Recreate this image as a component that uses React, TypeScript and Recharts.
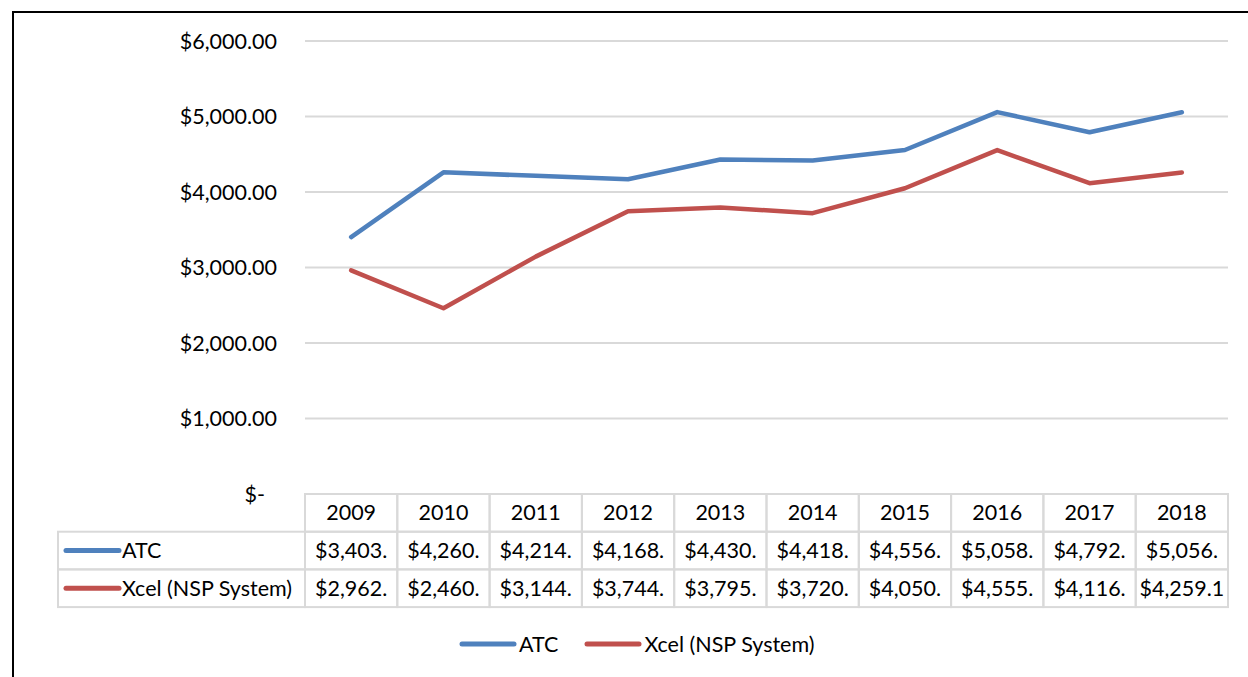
import React from "react";
import { LineChart, Line, XAxis, YAxis, CartesianGrid, Legend } from "recharts";

const years = ["2009", "2010", "2011", "2012", "2013", "2014", "2015", "2016", "2017", "2018"];
const atcValues = [3403, 4260, 4214, 4168, 4430, 4418, 4556, 5058, 4792, 5056];
const xcelValues = [2962, 2460, 3144, 3744, 3795, 3720, 4050, 4555, 4116, 4259.1];
// the data table shows the cut-off text Excel shows
const atcCells = ["$3,403.", "$4,260.", "$4,214.", "$4,168.", "$4,430.", "$4,418.", "$4,556.", "$5,058.", "$4,792.", "$5,056."];
const xcelCells = ["$2,962.", "$2,460.", "$3,144.", "$3,744.", "$3,795.", "$3,720.", "$4,050.", "$4,555.", "$4,116.", "$4,259.1"];
const yTicks = [0, 1000, 2000, 3000, 4000, 5000, 6000];

const series = [
  { key: "atc", name: "ATC", color: "#4f81bd", cells: atcCells },
  { key: "xcel", name: "Xcel (NSP System)", color: "#c0504d", cells: xcelCells },
];

const data = years.map((year, i) => ({ year, atc: atcValues[i], xcel: xcelValues[i] }));

const W = 1248;
const H = 677;
const PLOT_LEFT = 305;
const PLOT_RIGHT = 1228;
const COL_W = (PLOT_RIGHT - PLOT_LEFT) / years.length;
const ROW_H = 37.7;
const FONT = "Lato, 'Open Sans', sans-serif";
const FS = 21.5;
const DY = 7.5;
const GRID = "#d9d9d9";

const fmtMoney = (v: number) =>
  v === 0 ? "$-" : "$" + v.toLocaleString("en-US", { minimumFractionDigits: 2, maximumFractionDigits: 2 });

const YTick = ({ x, y, payload }: any) => (
  <text x={payload.value === 0 ? x - 40 : x - 28} y={y} dy={DY} textAnchor="end" fontFamily={FONT} fontSize={FS} fill="#000">
    {fmtMoney(payload.value)}
  </text>
);

const TableTick = ({ x, y, payload }: any) => {
  const i = payload.index;
  const left = x - COL_W / 2;
  return (
    <g>
      {[0, 1, 2].map((r) => (
        <rect key={r} x={left} y={y + r * ROW_H} width={COL_W} height={ROW_H} fill="none" stroke={GRID} strokeWidth={2} />
      ))}
      <text x={x} y={y + ROW_H / 2 + DY} textAnchor="middle" fontFamily={FONT} fontSize={FS} fill="#000">
        {years[i]}
      </text>
      {series.map((s, r) => (
        <text key={s.key} x={x} y={y + (r + 1.5) * ROW_H + DY} textAnchor="middle" fontFamily={FONT} fontSize={FS} fill="#000">
          {s.cells[i]}
        </text>
      ))}
      {i === 0 &&
        series.map((s, r) => {
          const cy = y + (r + 1.5) * ROW_H;
          return (
            <g key={s.key}>
              <rect x={58} y={y + (r + 1) * ROW_H} width={left - 58} height={ROW_H} fill="none" stroke={GRID} strokeWidth={2} />
              <line x1={66} x2={119} y1={cy} y2={cy} stroke={s.color} strokeWidth={5} strokeLinecap="round" />
              <text x={122} y={cy + DY} fontFamily={FONT} fontSize={FS} fill="#000">
                {s.name}
              </text>
            </g>
          );
        })}
    </g>
  );
};

const LegendBox = () => (
  <div style={{ display: "flex", alignItems: "center", paddingLeft: 459, fontFamily: FONT, fontSize: FS, color: "#000" }}>
    {series.map((s) => (
      <div key={s.key} style={{ display: "flex", alignItems: "center", marginRight: 26 }}>
        <svg width={58} height={10}>
          <line x1={3} x2={55} y1={5} y2={5} stroke={s.color} strokeWidth={5} strokeLinecap="round" />
        </svg>
        <span style={{ marginLeft: 2 }}>{s.name}</span>
      </div>
    ))}
  </div>
);

export default function App() {
  return (
    <div style={{ position: "fixed", left: 0, top: 0, width: W, height: H, background: "#fff" }}>
      <LineChart width={W} height={H} data={data} margin={{ top: 41, right: W - PLOT_RIGHT, left: 0, bottom: 0 }}>
        <CartesianGrid vertical={false} stroke={GRID} strokeWidth={2} />
        <XAxis
          dataKey="year"
          height={H - 41 - 453}
          axisLine={false}
          tickLine={false}
          tickSize={0}
          tickMargin={0}
          interval={0}
          padding={{ left: COL_W / 2, right: COL_W / 2 }}
          tick={<TableTick />}
        />
        <YAxis
          width={PLOT_LEFT}
          domain={[0, 6000]}
          ticks={yTicks}
          axisLine={false}
          tickLine={false}
          tickSize={0}
          tickMargin={0}
          tick={<YTick />}
        />
        <Legend
          layout="horizontal"
          verticalAlign="middle"
          align="center"
          content={<LegendBox />}
          wrapperStyle={{ top: 631, left: 0, width: W }}
        />
        {series.map((s) => (
          <Line
            key={s.key}
            type="linear"
            dataKey={s.key}
            name={s.name}
            stroke={s.color}
            strokeWidth={4.5}
            strokeLinecap="round"
            strokeLinejoin="round"
            dot={false}
            activeDot={false}
            isAnimationActive={false}
          />
        ))}
      </LineChart>
      <div
        style={{
          position: "absolute",
          left: 12,
          top: 11,
          width: W - 12,
          height: H - 11,
          borderTop: "2.5px solid #000",
          borderLeft: "2.5px solid #000",
          pointerEvents: "none",
        }}
      />
    </div>
  );
}
